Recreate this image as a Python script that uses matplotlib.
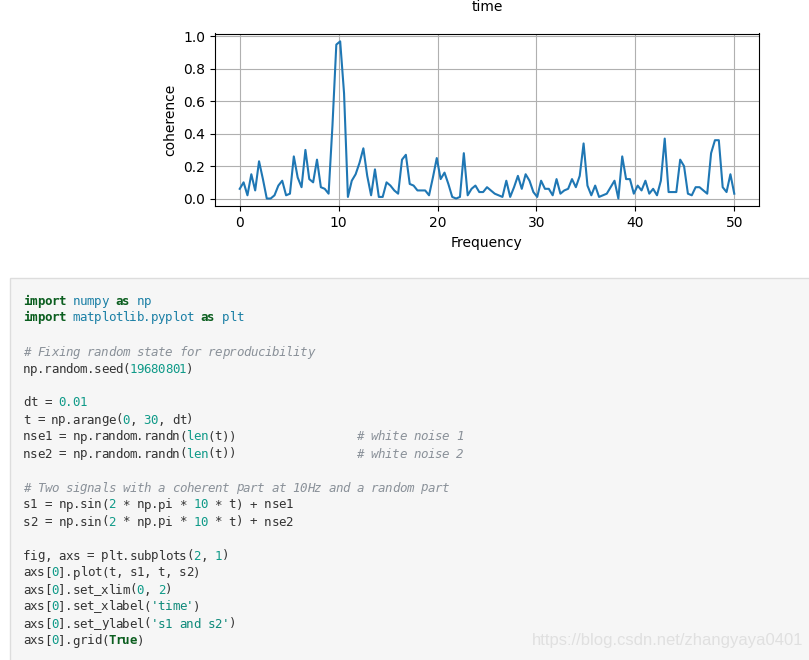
import re
import numpy as np
import matplotlib.pyplot as plt
from matplotlib.patches import Rectangle

# coherence, 129 bins from 0 to 50 Hz
coherence = [0.06, 0.10, 0.02, 0.15, 0.05, 0.23, 0.12, 0.00, 0.00, 0.02,
             0.08, 0.11, 0.02, 0.03, 0.26, 0.13, 0.07, 0.30, 0.12, 0.10,
             0.24, 0.07, 0.06, 0.03, 0.45, 0.95, 0.97, 0.65, 0.01, 0.11,
             0.15, 0.22, 0.31, 0.14, 0.02, 0.18, 0.01, 0.01, 0.10, 0.08,
             0.05, 0.03, 0.24, 0.27, 0.09, 0.08, 0.05, 0.05, 0.05, 0.02,
             0.13, 0.25, 0.12, 0.16, 0.09, 0.01, 0.00, 0.01, 0.28, 0.02,
             0.06, 0.08, 0.04, 0.04, 0.07, 0.05, 0.03, 0.02, 0.01, 0.11,
             0.01, 0.07, 0.14, 0.06, 0.15, 0.11, 0.04, 0.01, 0.11, 0.06,
             0.06, 0.02, 0.12, 0.03, 0.05, 0.06, 0.12, 0.07, 0.14, 0.34,
             0.08, 0.02, 0.08, 0.01, 0.02, 0.03, 0.07, 0.11, 0.00, 0.26,
             0.12, 0.12, 0.03, 0.08, 0.05, 0.11, 0.03, 0.06, 0.02, 0.11,
             0.37, 0.04, 0.04, 0.04, 0.24, 0.20, 0.03, 0.02, 0.07, 0.07,
             0.05, 0.03, 0.28, 0.36, 0.36, 0.07, 0.04, 0.15, 0.03]
freqs = np.linspace(0, 50, len(coherence))

code_lines = [
    "import numpy as np",
    "import matplotlib.pyplot as plt",
    "",
    "# Fixing random state for reproducibility",
    "np.random.seed(19680801)",
    "",
    "dt = 0.01",
    "t = np.arange(0, 30, dt)",
    "nse1 = np.random.randn(len(t))                 # white noise 1",
    "nse2 = np.random.randn(len(t))                 # white noise 2",
    "",
    "# Two signals with a coherent part at 10Hz and a random part",
    "s1 = np.sin(2 * np.pi * 10 * t) + nse1",
    "s2 = np.sin(2 * np.pi * 10 * t) + nse2",
    "",
    "fig, axs = plt.subplots(2, 1)",
    "axs[0].plot(t, s1, t, s2)",
    "axs[0].set_xlim(0, 2)",
    "axs[0].set_xlabel('time')",
    "axs[0].set_ylabel('s1 and s2')",
    "axs[0].grid(True)",
]

W, H = 809, 660
fig = plt.figure(figsize=(W / 100, H / 100), dpi=100)

# chart
ax = fig.add_axes([215 / W, 1 - 206.4 / H, 544 / W, 172.9 / H])
ax.plot(freqs, coherence, color='#1f77b4', lw=1.5)
ax.set_xlabel('Frequency', fontsize=10)
ax.set_ylabel('coherence', fontsize=10)
ax.tick_params(labelsize=10)
ax.grid(True)
fig.text(487 / W, 1 - 7 / H, 'time', ha='center', va='center', fontsize=10)

# code block
fig.patches.append(Rectangle((10 / W, -0.01), 1.0, (H - 278) / H + 0.01,
                             transform=fig.transFigure, facecolor='#f6f6f6',
                             edgecolor='#dddddd', lw=1.0, zorder=0))

C_TEXT = '#333333'
C_KW = '#0b5e1f'
C_MOD = '#1a7fa5'
C_NUM = '#0f9a88'
C_COM = '#8a9199'
C_STR = '#0e8a7a'

token_re = re.compile(r"(#.*$)|('[^']*')|(\b\d+(?:\.\d+)?\b)|(\b(?:import|as|True)\b)|(\blen\b)|(\s+)|(\w[\w.]*|.)")


def tokens(line):
    out = []
    after_import = line.startswith('import')
    for m in token_re.finditer(line):
        s = m.group(0)
        if m.group(1):
            out.append((s, C_COM, 'normal', 'italic'))
        elif m.group(2):
            out.append((s, C_STR, 'normal', 'normal'))
        elif m.group(3):
            out.append((s, C_NUM, 'normal', 'normal'))
        elif m.group(4):
            out.append((s, C_KW, 'bold', 'normal'))
        elif m.group(5):
            out.append((s, C_NUM, 'normal', 'normal'))
        elif m.group(6):
            out.append((s, None, 'normal', 'normal'))
        else:
            col = C_MOD if after_import else C_TEXT
            out.append((s, col, 'normal', 'normal'))
    return out


# one glyph per column so the narrow Consolas-like pitch is kept
cw = 7.1
for i, line in enumerate(code_lines):
    base = 300 + 17 * i + 4.5
    col = 0
    for s, c, weight, style in tokens(line):
        if c is not None:
            for k, ch in enumerate(s):
                if ch == ' ':
                    continue
                fig.text((23 + (col + k + 0.5) * cw) / W, 1 - base / H, ch,
                         color=c, fontfamily='DejaVu Sans Mono', fontsize=9,
                         fontweight=weight, fontstyle=style,
                         ha='center', va='baseline')
        col += len(s)

fig.text(803 / W, 1 - 641 / H, 'https://blog.csdn.net/zhangyaya0401',
         color='#e0e0e0', fontfamily='Liberation Sans', fontsize=12,
         ha='right', va='center')

fig.savefig('out.png', dpi=100)
